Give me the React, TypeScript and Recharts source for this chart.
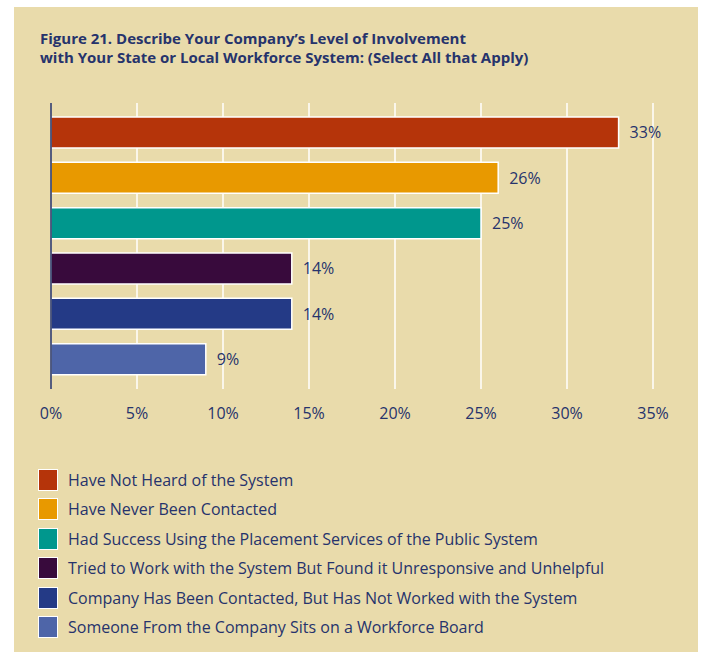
import { BarChart, Bar, XAxis, YAxis, CartesianGrid, Cell, LabelList } from 'recharts'

const categories = [
  'Have Not Heard of the System',
  'Have Never Been Contacted',
  'Had Success Using the Placement Services of the Public System',
  'Tried to Work with the System But Found it Unresponsive and Unhelpful',
  'Company Has Been Contacted, But Has Not Worked with the System',
  'Someone From the Company Sits on a Workforce Board',
]
const values = [33, 26, 25, 14, 14, 9]
const colors = ['#b5340a', '#e89900', '#00978d', '#380a3c', '#243a86', '#4e65a8']
const xTicks = [0, 5, 10, 15, 20, 25, 30, 35]

const NAVY = '#26336c'
const BG = '#e9dbab'
const FONT = '"Open Sans", sans-serif'

const chartData = categories.map((name, i) => ({ name, value: values[i], color: colors[i] }))

export default function App() {
  return (
    <div style={{ position: 'absolute', left: 14, top: 7, width: 684, height: 645, background: BG, fontFamily: FONT }}>
      <div
        style={{
          position: 'absolute',
          left: 26,
          top: 22,
          fontSize: 15,
          lineHeight: '19px',
          fontWeight: 700,
          color: NAVY,
        }}
      >
        Figure 21. Describe Your Company’s Level of Involvement
        <br />
        with Your State or Local Workforce System: (Select All that Apply)
      </div>

      <div style={{ position: 'absolute', left: 0, top: 83 }}>
        <BarChart
          width={684}
          height={339}
          data={chartData}
          layout="vertical"
          margin={{ top: 13, right: 45, bottom: 0, left: 7 }}
        >
          <CartesianGrid horizontal={false} stroke="#ffffff" strokeWidth={1.5} />
          <XAxis
            type="number"
            domain={[0, 35]}
            ticks={xTicks}
            tickFormatter={(v) => `${v}%`}
            axisLine={false}
            tickLine={false}
            tickMargin={13}
            height={40}
            tick={{ fill: NAVY, fontSize: 16, fontFamily: FONT }}
          />
          <YAxis
            type="category"
            dataKey="name"
            width={30}
            tick={false}
            tickLine={false}
            axisLine={{ stroke: '#1e2a5a', strokeWidth: 1.5 }}
            padding={{ top: 7, bottom: 7 }}
          />
          <Bar dataKey="value" barSize={31} stroke="#ffffff" strokeWidth={1.5} isAnimationActive={false}>
            {chartData.map((entry, i) => (
              <Cell key={`cell-${i}`} fill={entry.color} />
            ))}
            <LabelList
              dataKey="value"
              position="right"
              offset={11}
              formatter={(v: number) => `${v}%`}
              style={{ fill: NAVY, fontSize: 16, fontFamily: FONT }}
            />
          </Bar>
        </BarChart>
      </div>

      <div style={{ position: 'absolute', left: 24, top: 458 }}>
        {categories.map((name, i) => (
          <div key={name} style={{ display: 'flex', alignItems: 'center', height: 29.5 }}>
            <div
              style={{
                width: 18,
                height: 20,
                background: colors[i],
                border: '1.5px solid #ffffff',
                marginRight: 10,
              }}
            />
            <span style={{ fontSize: 16, color: NAVY }}>{name}</span>
          </div>
        ))}
      </div>
    </div>
  )
}
